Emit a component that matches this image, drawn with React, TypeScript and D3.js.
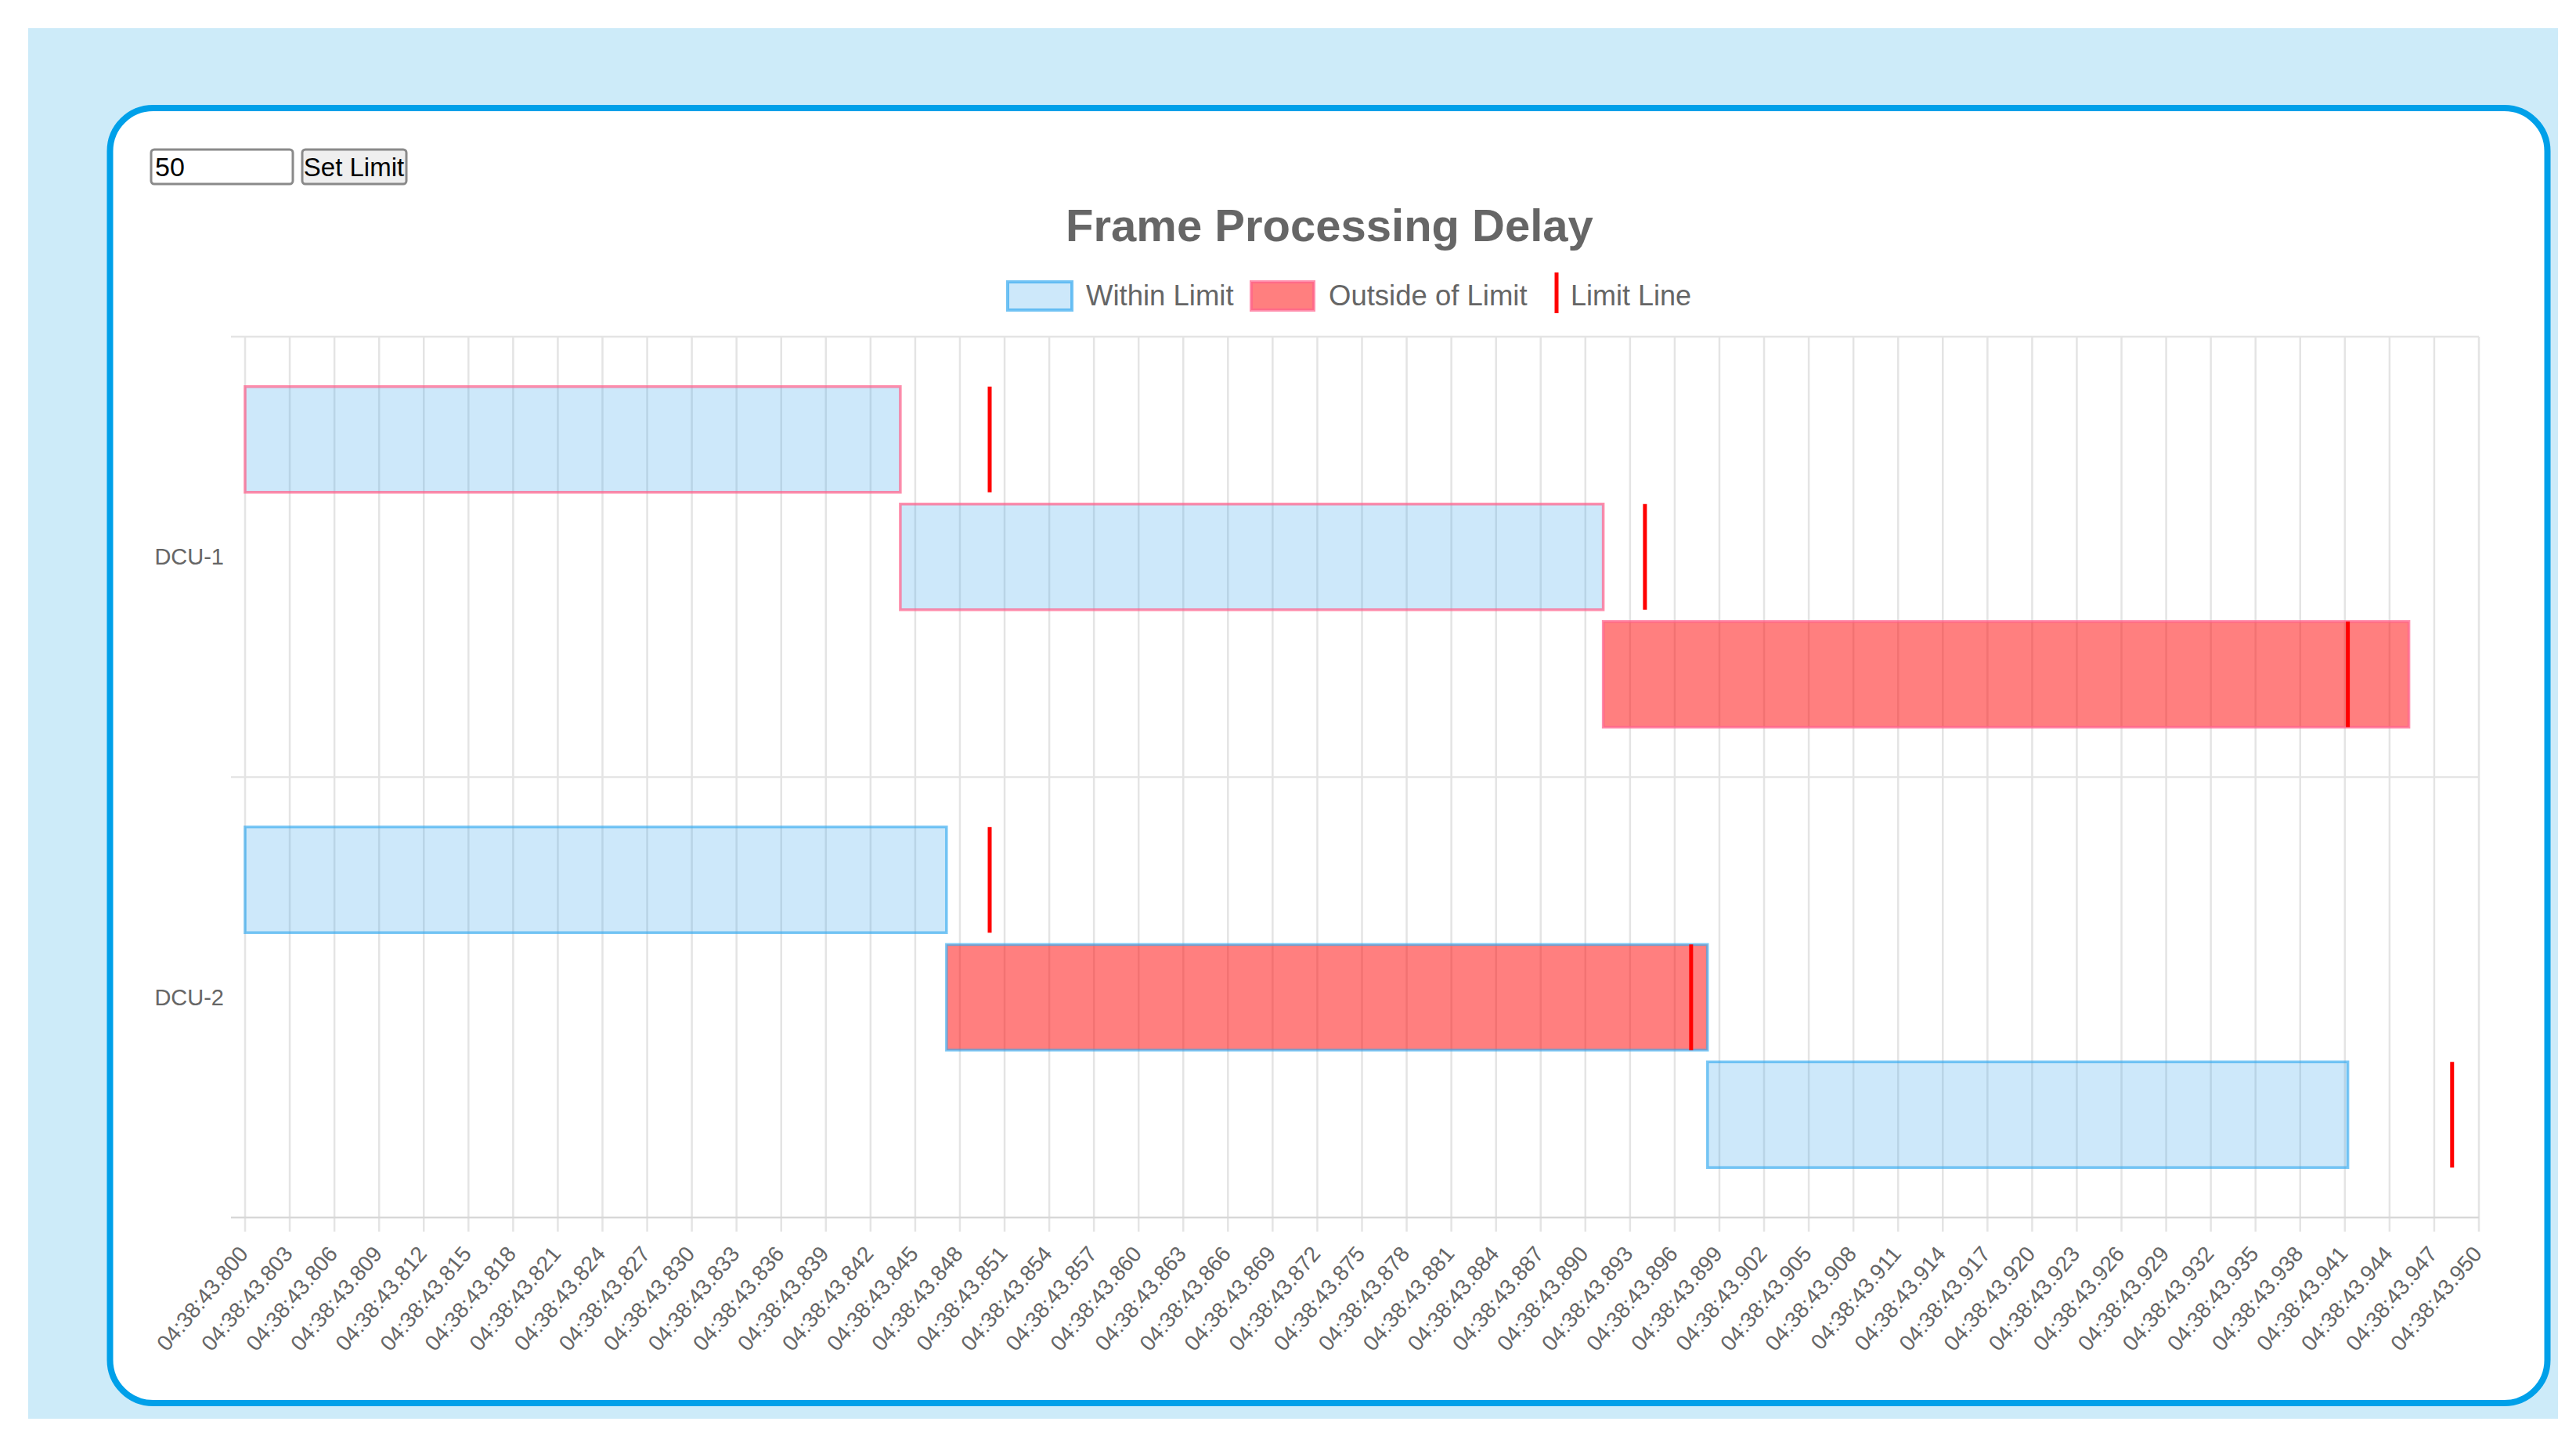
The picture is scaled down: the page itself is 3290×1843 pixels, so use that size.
import * as d3 from 'd3';

// time in ms after 04:38:43
const categories = ['DCU-1', 'DCU-2'];
const dcu1Start = [800, 844.0, 891.2];
const dcu1End = [844.0, 891.2, 945.3];
const dcu2Start = [800, 847.1, 898.2];
const dcu2End = [847.1, 898.2, 941.2];
const limitMs = 50;
const tickStepMs = 3;
const legendLabels = ['Within Limit', 'Outside of Limit', 'Limit Line'];

const W = 3290;
const H = 1843;
const FONT = '"Liberation Sans", Arial, Helvetica, sans-serif';
const plot = { left: 313, right: 3166, top: 430, bottom: 1555 };

const frames = [
  { cat: 'DCU-1', start: dcu1Start, end: dcu1End },
  { cat: 'DCU-2', start: dcu2Start, end: dcu2End },
].flatMap(s => s.start.map((st, i) => ({ cat: s.cat, row: i, start: st, end: s.end[i] })));

const borderColor: Record<string, string> = {
  'DCU-1': 'rgba(255,99,140,0.72)',
  'DCU-2': 'rgba(54,170,240,0.65)',
};
const withinFill = 'rgba(54,162,235,0.25)';
const outsideFill = 'rgba(255,0,0,0.5)';

const pad = (v: number) => String(Math.round(v)).padStart(3, '0');

export default function App() {
  const x = d3.scaleLinear().domain([800, 950]).range([plot.left, plot.right]);
  const y = d3.scaleBand().domain(categories).range([plot.top, plot.bottom]);
  const rows = d3.scaleBand<number>().domain([0, 1, 2])
    .range([y.bandwidth() * 0.1, y.bandwidth() * 0.9]);
  const barH = rows.bandwidth() * 0.9;
  const barOff = rows.bandwidth() * 0.05;
  const ticks = d3.range(800, 950 + 0.001, tickStepMs);
  const grid = '#e4e4e4';

  return (
    <svg width={W} height={H} style={{ position: 'absolute', left: 0, top: 0, display: 'block' }}
      fontFamily={FONT}>
      <rect x={0} y={0} width={W} height={H} fill="#fff" />
      <rect x={36} y={36} width={3231} height={1776} fill="#cdebf9" />
      <rect x={140.5} y={138} width={3113} height={1654} rx={55} fill="#fff"
        stroke="#00a0e9" strokeWidth={8} />

      {/* input + button */}
      <rect x={193} y={191} width={181} height={44} rx={4} fill="#fff" stroke="#8a8a8a" strokeWidth={3} />
      <text x={198} y={225} fontSize={34} fill="#000">50</text>
      <rect x={386} y={191} width={133} height={44} rx={4} fill="#efefef" stroke="#8a8a8a" strokeWidth={3} />
      <text x={452} y={225} fontSize={33} fill="#000" textAnchor="middle">Set Limit</text>

      <text x={1698} y={308} fontSize={58} fontWeight="bold" fill="#666" textAnchor="middle">
        Frame Processing Delay
      </text>

      {/* legend */}
      <rect x={1287} y={360} width={82} height={36} fill={withinFill} stroke="rgba(54,170,240,0.7)" strokeWidth={4} />
      <text x={1387} y={390} fontSize={36.5} fill="#666">{legendLabels[0]}</text>
      <rect x={1598} y={360} width={80} height={36} fill={outsideFill} stroke="rgba(255,99,140,0.72)" strokeWidth={4} />
      <text x={1697} y={390} fontSize={36.5} fill="#666">{legendLabels[1]}</text>
      <line x1={1988} x2={1988} y1={348} y2={400} stroke="#ff0000" strokeWidth={5} />
      <text x={2006} y={390} fontSize={36} fill="#666">{legendLabels[2]}</text>

      {/* grid */}
      {ticks.map(t => (
        <line key={'g' + t} x1={x(t)} x2={x(t)} y1={plot.top} y2={plot.bottom + 18}
          stroke={grid} strokeWidth={2.5} />
      ))}
      {[...categories.map(c => y(c) as number), plot.bottom].map(v => (
        <line key={'h' + v} x1={plot.left - 18} x2={plot.right} y1={v} y2={v}
          stroke={v === plot.bottom ? '#d8d8d8' : grid} strokeWidth={2.5} />
      ))}

      {/* bars */}
      {frames.map(f => {
        const y0 = (y(f.cat) as number) + (rows(f.row) as number) + barOff;
        const over = f.end - f.start > limitMs;
        return (
          <g key={f.cat + f.row}>
            <rect x={x(f.start)} y={y0} width={x(f.end) - x(f.start)} height={barH}
              fill={over ? outsideFill : withinFill} stroke={borderColor[f.cat]} strokeWidth={3.5} />
            <line x1={x(f.start + limitMs)} x2={x(f.start + limitMs)} y1={y0} y2={y0 + barH}
              stroke="#ff0000" strokeWidth={5} />
          </g>
        );
      })}

      {/* y labels */}
      {categories.map(c => (
        <text key={c} x={286} y={(y(c) as number) + y.bandwidth() / 2} fontSize={29} fill="#666"
          textAnchor="end" dominantBaseline="central">{c}</text>
      ))}

      {/* x labels */}
      {ticks.map(t => (
        <text key={'t' + t} transform={`translate(${x(t) - 2},${1596}) rotate(-50)`}
          fontSize={28} fill="#666" textAnchor="end" dominantBaseline="central">
          {`04:38:43.${pad(t)}`}
        </text>
      ))}
    </svg>
  );
}
